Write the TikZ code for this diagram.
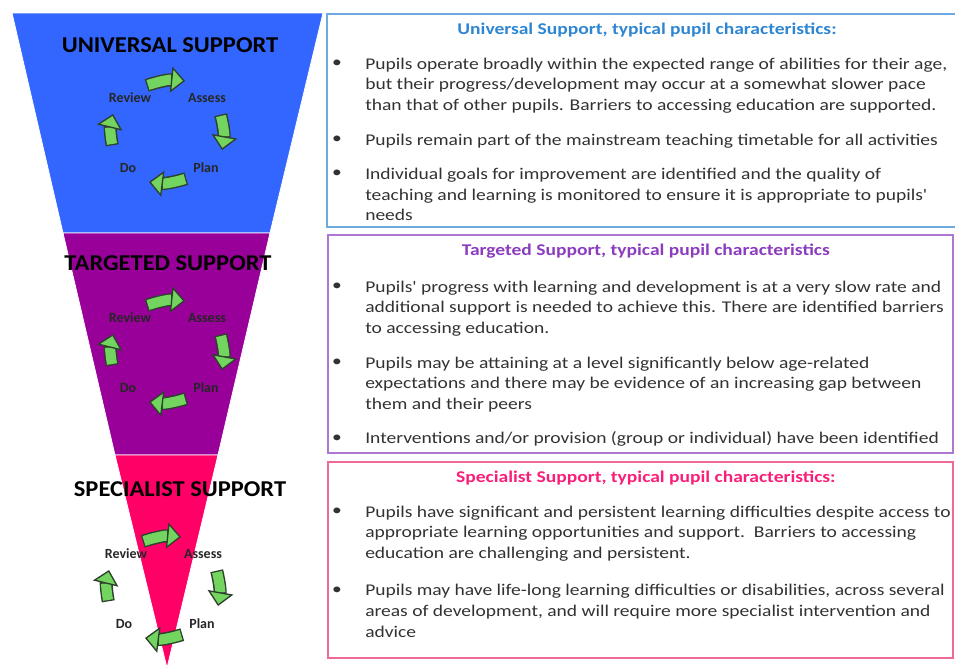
\documentclass[tikz,border=0pt]{standalone}
\usepackage{fontspec}
\setmainfont{Carlito}
\newfontfamily\bodyfont{Carlito}[FakeStretch=1.19,Ligatures=TeXOff]
\newfontfamily\titlefont{Carlito}[FakeStretch=1.08]
\usepackage{tikz}
\usetikzlibrary{arrows.meta,positioning}

\definecolor{uniblue}{RGB}{51,102,255}
\definecolor{tarpurple}{RGB}{153,0,153}
\definecolor{spepink}{RGB}{255,0,102}
\definecolor{unihead}{RGB}{46,134,210}
\definecolor{tarhead}{RGB}{140,60,190}
\definecolor{spehead}{RGB}{250,30,120}
\definecolor{uniline}{RGB}{110,170,225}
\definecolor{tarline}{RGB}{170,120,210}
\definecolor{speline}{RGB}{240,105,155}
\definecolor{cycgreen}{RGB}{115,212,95}
\definecolor{cycdark}{RGB}{45,65,45}
\definecolor{bodytext}{RGB}{50,50,50}

\begin{document}
\begin{tikzpicture}[x=0.75pt,y=-0.75pt,
  title/.style={font=\titlefont\fontsize{17}{20}\selectfont\bfseries,text=black,inner sep=0pt}]

% Define block styles
\tikzstyle{panel} = [draw, line width=1.5pt, anchor=north west, inner sep=0pt]
\tikzstyle{head} = [font=\bodyfont\fontsize{12.3}{15}\selectfont\bfseries, inner sep=0pt, below=7pt]
\tikzstyle{para} = [align=left, anchor=north west, inner sep=0pt, text=bodytext,
    font=\bodyfont\fontsize{12.3}{15.5}\selectfont]
\tikzstyle{dot} = [inner sep=0pt, text=bodytext, font=\bodyfont\fontsize{12.3}{15.5}\selectfont]
\tikzstyle{cyclabel} = [font=\fontsize{10.5}{12}\selectfont\bfseries, text=black!85, inner sep=0pt]
\tikzstyle{cyc} = [draw=cycgreen, line width=7.6pt, bend left=12,
    -{Triangle[length=10.5pt,width=19.5pt,line width=1pt,color=cycdark,fill=cycgreen]},
    preaction={draw=cycdark, line width=9.8pt, -, shorten >=8.5pt, shorten <=-1pt}]

\useasboundingbox (0,0) rectangle (955,668);

% funnel
\filldraw[fill=uniblue, draw=white, line width=0.6pt] (12,13) -- (323,13) -- (270,233) -- (63,233) -- cycle;
\filldraw[fill=tarpurple, draw=white, line width=0.6pt] (63,233) -- (270,233) -- (218,455) -- (115,455) -- cycle;
\filldraw[fill=spepink, draw=white, line width=0.6pt] (115,455) -- (218,455) -- (167,668) -- cycle;

\node[title] (uniTitle) at (170,45) {UNIVERSAL SUPPORT};
\node[title] (tarTitle) at (168,263) {TARGETED SUPPORT};
\node[title] (speTitle) at (180,489) {SPECIALIST SUPPORT};

% review cycles
\begin{scope}
\node[cyclabel] (uniRev)  at (130,98)  {Review};
\node[cyclabel] (uniAss)  at (207,98)  {Assess};
\node[cyclabel] (uniPlan) at (206,168) {Plan};
\node[cyclabel] (uniDo)   at (128,168) {Do};
\path
	([shift={(18,-13)}]uniRev.center)  edge[cyc] ([shift={(-22,-17)}]uniAss.center)
	([shift={(14,18)}]uniAss.center)   edge[cyc] ([shift={(16,-18)}]uniPlan.center)
	([shift={(-21,11)}]uniPlan.center) edge[cyc] ([shift={(21,14)}]uniDo.center)
	([shift={(-16,-24)}]uniDo.center)  edge[cyc] ([shift={(-17,16)}]uniRev.center);
\end{scope}

\begin{scope}[shift={(0,220)}]
\node[cyclabel] (tarRev)  at (130,98)  {Review};
\node[cyclabel] (tarAss)  at (207,98)  {Assess};
\node[cyclabel] (tarPlan) at (206,168) {Plan};
\node[cyclabel] (tarDo)   at (128,168) {Do};
\path
	([shift={(18,-13)}]tarRev.center)  edge[cyc] ([shift={(-22,-17)}]tarAss.center)
	([shift={(14,18)}]tarAss.center)   edge[cyc] ([shift={(16,-18)}]tarPlan.center)
	([shift={(-21,11)}]tarPlan.center) edge[cyc] ([shift={(21,14)}]tarDo.center)
	([shift={(-16,-24)}]tarDo.center)  edge[cyc] ([shift={(-17,16)}]tarRev.center);
\end{scope}

\begin{scope}[shift={(-4,456)}]
\node[cyclabel] (speRev)  at (130,98)  {Review};
\node[cyclabel] (speAss)  at (207,98)  {Assess};
\node[cyclabel] (spePlan) at (206,168) {Plan};
\node[cyclabel] (speDo)   at (128,168) {Do};
\path
	([shift={(18,-13)}]speRev.center)  edge[cyc] ([shift={(-22,-17)}]speAss.center)
	([shift={(14,18)}]speAss.center)   edge[cyc] ([shift={(16,-18)}]spePlan.center)
	([shift={(-21,11)}]spePlan.center) edge[cyc] ([shift={(21,14)}]speDo.center)
	([shift={(-16,-24)}]speDo.center)  edge[cyc] ([shift={(-17,16)}]speRev.center);
\end{scope}

% characteristic panels
\node[panel, draw=uniline, minimum width=474pt, minimum height=159.75pt] (uniBox) at (326,13) {};
\node[panel, draw=tarline, minimum width=468.75pt, minimum height=163.5pt] (tarBox) at (327,234) {};
\node[panel, draw=speline, minimum width=468.75pt, minimum height=147pt] (speBox) at (327,461) {};

\node[head, text=unihead, xshift=3pt] (uniHead) [below=7pt of uniBox.north] {Universal Support, typical pupil characteristics:};
\node[head, text=tarhead, xshift=4pt] (tarHead) [below=7pt of tarBox.north] {Targeted Support, typical pupil characteristics};
\node[head, text=spehead, xshift=4pt] (speHead) [below=7pt of speBox.north] {Specialist Support, typical pupil characteristics:};

\node[para] (uniA) at (365,54.5) {\strut Pupils operate broadly within the expected range of abilities for their age,\\
    but their progress/development may occur at a somewhat slower pace\\
    than that of other pupils. Barriers to accessing education are supported.\strut};
\node[para] (uniB) [below=10pt of uniA.south west, anchor=north west] {\strut Pupils remain part of the mainstream teaching timetable for all activities\strut};
\node[para] (uniC) [below=10pt of uniB.south west, anchor=north west] {\strut Individual goals for improvement are identified and the quality of\\
    teaching and learning is monitored to ensure it is appropriate to pupils'\\
    needs\strut};

\node[para] (tarA) at (365,277.5) {\strut Pupils' progress with learning and development is at a very slow rate and\\
    additional support is needed to achieve this. There are identified barriers\\
    to accessing education.\strut};
\node[para] (tarB) [below=10pt of tarA.south west, anchor=north west] {\strut Pupils may be attaining at a level significantly below age-related\\
    expectations and there may be evidence of an increasing gap between\\
    them and their peers\strut};
\node[para] (tarC) [below=10pt of tarB.south west, anchor=north west] {\strut Interventions and/or provision (group or individual) have been identified\strut};

\node[para] (speA) at (365,502.5) {\strut Pupils have significant and persistent learning difficulties despite access to\\
    appropriate learning opportunities and support.\ \ Barriers to accessing\\
    education are challenging and persistent.\strut};
\node[para] (speB) [below=12pt of speA.south west, anchor=north west] {\strut Pupils may have life-long learning difficulties or disabilities, across several\\
    areas of development, and will require more specialist intervention and\\
    advice\strut};

% bullets
\node[dot] (uniDotA) at ([xshift=-21pt,yshift=-7pt]uniA.north west) {\textbullet};
\node[dot] (uniDotB) at ([xshift=-21pt,yshift=-7pt]uniB.north west) {\textbullet};
\node[dot] (uniDotC) at ([xshift=-21pt,yshift=-7pt]uniC.north west) {\textbullet};
\node[dot] (tarDotA) at ([xshift=-21pt,yshift=-7pt]tarA.north west) {\textbullet};
\node[dot] (tarDotB) at ([xshift=-21pt,yshift=-7pt]tarB.north west) {\textbullet};
\node[dot] (tarDotC) at ([xshift=-21pt,yshift=-7pt]tarC.north west) {\textbullet};
\node[dot] (speDotA) at ([xshift=-21pt,yshift=-7pt]speA.north west) {\textbullet};
\node[dot] (speDotB) at ([xshift=-21pt,yshift=-7pt]speB.north west) {\textbullet};

\end{tikzpicture}
\end{document}
